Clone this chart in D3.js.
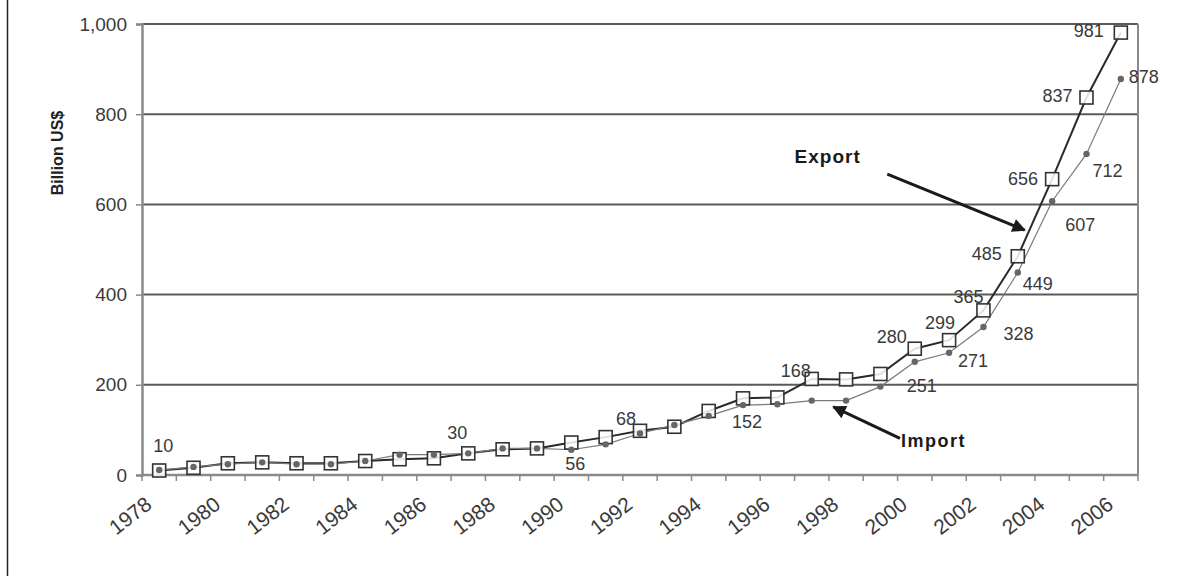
<!DOCTYPE html>
<html>
<head>
<meta charset="utf-8">
<script src="https://cdn.jsdelivr.net/npm/d3@7"></script>
<style>
  body { margin: 0; background: #fff; }
  svg { display: block; font-family: 'Liberation Sans', Arial, sans-serif; }
</style>
</head>
<body>
<div id="graph"></div>
<script>
const years = [1978, 1979, 1980, 1981, 1982, 1983, 1984, 1985, 1986, 1987,
  1988, 1989, 1990, 1991, 1992, 1993, 1994, 1995, 1996, 1997,
  1998, 1999, 2000, 2001, 2002, 2003, 2004, 2005, 2006]
const exportValues = [10, 16, 26, 28, 26, 26, 31, 35, 37, 48,
  57, 59, 72, 84, 98, 107, 142, 170, 172, 213,
  212, 224, 280, 299, 365, 485, 656, 837, 981]
const importValues = [11, 18, 24, 28, 24, 24, 31, 45, 45, 48,
  59, 59, 56, 68, 92, 111, 131, 155, 157, 165,
  165, 196, 251, 271, 328, 449, 607, 712, 878]
const yTicks = [0, 200, 400, 600, 800, 1000]
const yearLabels = [1978, 1980, 1982, 1984, 1986, 1988, 1990, 1992, 1994, 1996, 1998, 2000, 2002, 2004, 2006]

// value labels written on the chart
const labelTexts = ['10', '30', '56', '68', '152', '168', '280', '299', '365', '485', '656', '837', '981',
  '878', '712', '607', '449', '328', '271', '251']
const labelYears = [1978, 1987, 1990, 1992, 1995, 1997, 2000, 2001, 2002, 2003, 2004, 2005, 2006,
  2006, 2005, 2004, 2003, 2002, 2001, 2000]
const labelSeries = ['export', 'export', 'import', 'export', 'import', 'export', 'export', 'export', 'export',
  'export', 'export', 'export', 'export', 'import', 'import', 'import', 'import', 'import', 'import', 'import']

const margin = { top: 24, right: 44, bottom: 101, left: 142 },
  width = 1182 - margin.left - margin.right,
  height = 576 - margin.top - margin.bottom

const svg = d3
  .select('#graph')
  .append('svg')
  .attr('width', 1182)
  .attr('height', 576)

// frame line on the left of the picture
svg.append('line')
  .attr('x1', 7.5).attr('x2', 7.5).attr('y1', 0).attr('y2', 576)
  .attr('stroke', '#222').attr('stroke-width', 1.5)

const g = svg.append('g').attr('transform', `translate(${margin.left},${margin.top})`)

const x = d3.scaleBand().domain(years).range([0, width]).padding(0)
const cx = (yr) => x(yr) + x.bandwidth() / 2
// continuous version of the year axis, for the arrows
const xc = d3.scaleLinear().domain([1978, 2006]).range([cx(1978), cx(2006)])
const y = d3.scaleLinear().domain([0, 1000]).range([height, 0])

// gridlines
g.selectAll('.grid')
  .data(yTicks.filter((d) => d > 0))
  .enter()
  .append('line')
  .attr('x1', 0).attr('x2', width)
  .attr('y1', (d) => y(d)).attr('y2', (d) => y(d))
  .attr('stroke', '#5a5a5a').attr('stroke-width', 2)

// right border
g.append('line')
  .attr('x1', width).attr('x2', width).attr('y1', 0).attr('y2', height)
  .attr('stroke', '#8a8a8a').attr('stroke-width', 2)

// y axis
const yAxis = g.append('g')
  .call(d3.axisLeft(y).tickValues(yTicks).tickSize(6).tickPadding(9).tickFormat(d3.format(',')))
yAxis.select('.domain').attr('stroke', '#8a8a8a').attr('stroke-width', 2.5)
yAxis.selectAll('.tick line').attr('stroke', '#8a8a8a').attr('stroke-width', 1.5)
yAxis.selectAll('text').attr('fill', '#3a3a3a').style('font-size', '19px')

// x axis, ticks between the categories
const xAxis = g.append('g').attr('transform', `translate(0,${height})`)
xAxis.append('line')
  .attr('x1', 0).attr('x2', width).attr('y1', 0).attr('y2', 0)
  .attr('stroke', '#8a8a8a').attr('stroke-width', 2.5)
xAxis.selectAll('.xtick')
  .data(years.concat(['end']))
  .enter()
  .append('line')
  .attr('x1', (d) => (d === 'end' ? width : x(d)))
  .attr('x2', (d) => (d === 'end' ? width : x(d)))
  .attr('y1', 0).attr('y2', 6)
  .attr('stroke', '#8a8a8a').attr('stroke-width', 1.5)
xAxis.selectAll('.xlabel')
  .data(yearLabels)
  .enter()
  .append('text')
  .attr('transform', (d) => `translate(${cx(d) - 6},32) rotate(-38)`)
  .attr('text-anchor', 'end')
  .attr('fill', '#3a3a3a')
  .style('font-size', '21px')
  .text((d) => d)

// y axis title
svg.append('text')
  .attr('transform', 'translate(63,153) rotate(-90)')
  .attr('text-anchor', 'middle')
  .style('font-size', '16px')
  .style('font-weight', 'bold')
  .attr('fill', '#222')
  .text('Billion US$')

const exportData = years.map((yr, i) => ({ year: yr, value: exportValues[i] }))
const importData = years.map((yr, i) => ({ year: yr, value: importValues[i] }))
const line = d3.line().x((d) => cx(d.year)).y((d) => y(d.value))

g.append('path').datum(exportData).attr('d', line)
  .attr('fill', 'none').attr('stroke', '#2a2a2a').attr('stroke-width', 2)
g.append('path').datum(importData).attr('d', line)
  .attr('fill', 'none').attr('stroke', '#7a7a7a').attr('stroke-width', 1.2)

g.selectAll('.sq')
  .data(exportData)
  .enter()
  .append('rect')
  .attr('x', (d) => cx(d.year) - 6.5)
  .attr('y', (d) => y(d.value) - 6.5)
  .attr('width', 13).attr('height', 13)
  .attr('fill', '#fff').attr('fill-opacity', 0.85)
  .attr('stroke', '#333').attr('stroke-width', 1.6)

g.selectAll('.dot')
  .data(importData)
  .enter()
  .append('circle')
  .attr('cx', (d) => cx(d.year))
  .attr('cy', (d) => y(d.value))
  .attr('r', 3.2)
  .attr('fill', '#666')

// value labels, placed next to their point
const placement = [
  [4, -18, 'middle'], [-11, -14, 'middle'], [4, 20, 'middle'], [-14, -6, 'middle'],
  [4, 23, 'middle'], [-16, -2, 'middle'], [-8, -6, 'end'], [6, -11, 'end'],
  [0, -7, 'end'], [-16, 4, 'end'], [-14, 6, 'end'], [-14, 4, 'end'], [-17, 4, 'end'],
  [8, 4, 'start'], [6, 23, 'start'], [13, 30, 'start'], [5, 17, 'start'],
  [20, 13, 'start'], [9, 14, 'start'], [-8, 30, 'start'],
]
labelTexts.forEach((t, i) => {
  const vals = labelSeries[i] === 'export' ? exportValues : importValues
  const v = vals[years.indexOf(labelYears[i])]
  g.append('text')
    .attr('x', cx(labelYears[i]) + placement[i][0])
    .attr('y', y(v) + placement[i][1])
    .attr('text-anchor', placement[i][2])
    .attr('fill', '#3a3a3a')
    .style('font-size', '18px')
    .text(t)
})

// annotation arrows
svg.append('defs').append('marker')
  .attr('id', 'head')
  .attr('viewBox', '0 0 10 10')
  .attr('refX', 9).attr('refY', 5)
  .attr('markerWidth', 5.5).attr('markerHeight', 4.5)
  .attr('markerUnits', 'strokeWidth')
  .attr('orient', 'auto')
  .append('path')
  .attr('d', 'M0,0L10,5L0,10Z')
  .attr('fill', '#1a1a1a')

g.append('line')
  .attr('x1', xc(1999.2)).attr('y1', y(667))
  .attr('x2', xc(2003.2)).attr('y2', y(543))
  .attr('stroke', '#1a1a1a').attr('stroke-width', 3)
  .attr('marker-end', 'url(#head)')
g.append('line')
  .attr('x1', xc(1999.57)).attr('y1', y(81))
  .attr('x2', xc(1997.63)).attr('y2', y(151))
  .attr('stroke', '#1a1a1a').attr('stroke-width', 3)
  .attr('marker-end', 'url(#head)')

g.append('text')
  .attr('x', xc(1996.5)).attr('y', y(692))
  .style('font-size', '19px').style('font-weight', 'bold').style('letter-spacing', '1px')
  .attr('fill', '#1a1a1a')
  .text('Export')
g.append('text')
  .attr('x', xc(1999.6)).attr('y', y(63))
  .style('font-size', '18px').style('font-weight', 'bold').style('letter-spacing', '1.5px')
  .attr('fill', '#1a1a1a')
  .text('Import')
</script>
</body>
</html>
